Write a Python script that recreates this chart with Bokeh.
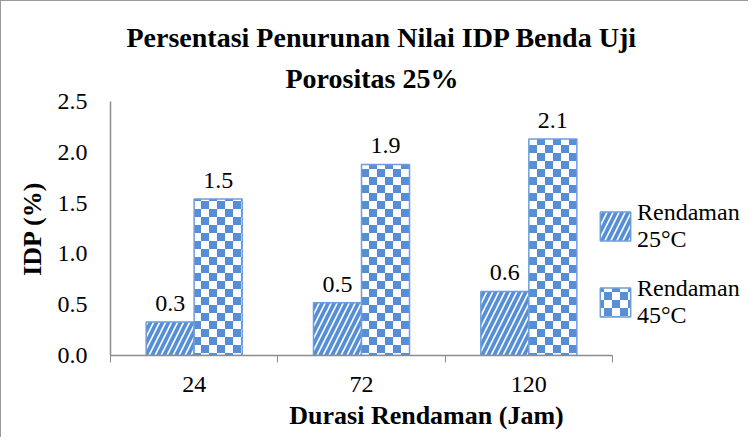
import numpy as np
from bokeh.plotting import figure
from bokeh.models import (ColumnDataSource, FixedTicker, LabelSet, Legend, LegendItem,
                          CanvasTexture, Range1d, Title)
from bokeh.embed import file_html
from bokeh.resources import INLINE

# ---- data ----
categories = ["24", "72", "120"]
series_names = ["Rendaman\n25°C", "Rendaman\n45°C"]
idp_25 = [0.33, 0.52, 0.63]
idp_45 = [1.54, 1.88, 2.13]
y_ticks = [0.0, 0.5, 1.0, 1.5, 2.0, 2.5]
title_lines = ["Persentasi Penurunan Nilai IDP Benda Uji", "Porositas 25%"]

BLUE = "#568FD6"
EDGE = "#6C9DDA"
FONT = "Liberation Serif"
BFONT = "Liberation Serif, DejaVu Serif, serif"

n = len(categories)
idx = np.arange(n)
bar_w = 0.287
centers = idx + 0.5

src25 = ColumnDataSource(dict(x=centers - bar_w / 2, top=idp_25,
                              lab=[f"{v:.1f}" for v in idp_25]))
src45 = ColumnDataSource(dict(x=centers + bar_w / 2, top=idp_45,
                              lab=[f"{v:.1f}" for v in idp_45]))

# frame extends to the right so the legend lives inside it; the x axis is bounded to the categories
p = figure(width=748, height=437, output_backend="svg", toolbar_location=None,
           x_range=Range1d(0, n * 632 / 502), y_range=Range1d(0, 2.5),
           min_border_left=109, min_border_right=7, min_border_top=100,
           min_border_bottom=83)
p.styles = {"border-left": "1px solid #9a9a9a", "border-top": "1px solid #9a9a9a"}

# outer line of the title
p.title.text = title_lines[0]
p.title.align = "left"
p.title.text_font = BFONT
p.title.text_font_size = "28px"
p.title.text_font_style = "bold"
p.title.text_color = "black"
p.title.offset = 16
p.title.standoff = 2
# inner line (closest to the frame)
t2 = Title(text=title_lines[1], align="left", text_font=BFONT, text_font_size="28px",
           text_font_style="bold", text_color="black", offset=175, standoff=15)
p.add_layout(t2, "above")

p.grid.visible = False
p.outline_line_color = None
p.background_fill_color = "white"
p.border_fill_color = "white"

checker = CanvasTexture(code="""
ctx.canvas.width = 16;
ctx.canvas.height = 16;
ctx.fillStyle = "#568FD6";
ctx.fillRect(0, 0, 8, 8);
ctx.fillRect(8, 8, 8, 8);
""")

r25 = p.vbar(x="x", top="top", width=bar_w, source=src25, fill_color="white",
             line_color=EDGE, line_width=1.5, hatch_pattern="right_diagonal_line",
             hatch_color=BLUE, hatch_scale=12, hatch_weight=3.8)
r45 = p.vbar(x="x", top="top", width=bar_w, source=src45, fill_color="white",
             line_color=EDGE, line_width=1.5, hatch_pattern=dict(value="checker"),
             hatch_extra={"checker": checker}, hatch_color=BLUE, hatch_scale=16)

for s in (src25, src45):
    p.add_layout(LabelSet(x="x", y="top", text="lab", source=s, text_align="center",
                          text_baseline="alphabetic", y_offset=11,
                          text_font_size="24px", text_font=FONT, text_color="black"))

# x axis: ticks at boundaries, labels at centers
xa = p.below[0]
xa.bounds = (0, n)
xa.ticker = FixedTicker(ticks=list(centers), minor_ticks=list(range(n + 1)))
xa.major_label_overrides = {float(c): lab for c, lab in zip(centers, categories)}
xa.major_tick_line_color = None
xa.major_tick_out = 0
xa.major_tick_in = 0
xa.minor_tick_out = 7
xa.minor_tick_in = 0
xa.minor_tick_line_color = "#8c8c8c"
xa.axis_line_color = "#8c8c8c"
xa.axis_line_width = 1.5
xa.major_label_text_font = FONT
xa.major_label_text_font_size = "24px"
xa.major_label_text_color = "black"
xa.major_label_standoff = 14
xa.axis_label = "Durasi Rendaman (Jam)"
xa.axis_label_text_font = BFONT
xa.axis_label_text_font_size = "26px"
xa.axis_label_text_font_style = "bold"
xa.axis_label_text_color = "black"
xa.axis_label_standoff = 6

ya = p.left[0]
ya.ticker = FixedTicker(ticks=y_ticks)
ya.major_label_overrides = {t: f"{t:.1f}" for t in y_ticks}
ya.major_tick_line_color = None
ya.minor_tick_line_color = None
ya.major_tick_out = 0
ya.axis_line_color = "#8c8c8c"
ya.axis_line_width = 1.5
ya.major_label_text_font = FONT
ya.major_label_text_font_size = "24px"
ya.major_label_text_color = "black"
ya.major_label_standoff = 23
ya.axis_label = "IDP (%)"
ya.axis_label_text_font = BFONT
ya.axis_label_text_font_size = "26px"
ya.axis_label_text_font_style = "bold"
ya.axis_label_text_color = "black"
ya.axis_label_standoff = 8

legend = Legend(items=[LegendItem(label=series_names[0], renderers=[r25]),
                       LegendItem(label=series_names[1], renderers=[r45])],
                location=(486, 26), padding=0, margin=0, spacing=22,
                glyph_width=38, glyph_height=36, label_standoff=3,
                label_text_font=FONT, label_text_font_size="24px",
                label_text_color="black", border_line_color=None,
                background_fill_alpha=0)
p.add_layout(legend, "center")

open("out.html", "w").write(file_html(p, INLINE))
